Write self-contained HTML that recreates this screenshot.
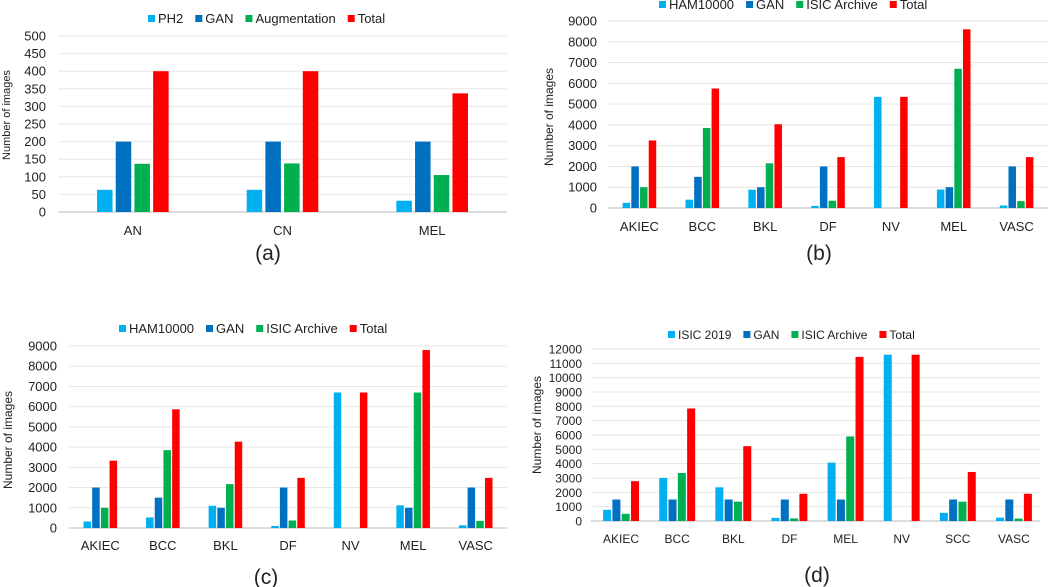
<!DOCTYPE html>
<html><head><meta charset="utf-8"><style>
html,body{margin:0;padding:0;background:#fff}
svg{display:block}
text{font-family:"Liberation Sans",sans-serif;fill:#222}
</style></head><body>
<svg id="fig" width="1049" height="587" viewBox="0 0 1049 587" xmlns="http://www.w3.org/2000/svg"></svg>
<script>
const colors=["#00b0f0","#0070c0","#00b050","#ff0000"];
// Panel (a)
const catsA=["AN","CN","MEL"];
const legendA=["PH2","GAN","Augmentation","Total"];
const ph2A=[63,63,32];
const ganA=[200,200,200];
const augA=[137,138,105];
const totalA=[400,400,337];
const ticksA=[0,50,100,150,200,250,300,350,400,450,500];
// Panel (b)
const catsB=["AKIEC","BCC","BKL","DF","NV","MEL","VASC"];
const legendB=["HAM10000","GAN","ISIC Archive","Total"];
const hamB=[250,400,880,100,5350,890,120];
const ganB=[2000,1500,1000,2000,0,1000,2000];
const isicB=[1000,3850,2150,350,0,6700,330];
const totalB=[3250,5750,4030,2450,5350,8600,2450];
const ticksB=[0,1000,2000,3000,4000,5000,6000,7000,8000,9000];
// Panel (c)
const catsC=["AKIEC","BCC","BKL","DF","NV","MEL","VASC"];
const legendC=["HAM10000","GAN","ISIC Archive","Total"];
const hamC=[320,520,1100,100,6700,1120,130];
const ganC=[2000,1500,1000,2000,0,1000,2000];
const isicC=[1000,3850,2170,370,0,6700,350];
const totalC=[3330,5870,4270,2480,6700,8800,2480];
const ticksC=[0,1000,2000,3000,4000,5000,6000,7000,8000,9000];
// Panel (d)
const catsD=["AKIEC","BCC","BKL","DF","MEL","NV","SCC","VASC"];
const legendD=["ISIC 2019","GAN","ISIC Archive","Total"];
const isic19D=[780,3000,2350,220,4070,11600,570,230];
const ganD=[1500,1500,1500,1500,1500,0,1500,1500];
const isicD=[500,3350,1350,180,5900,0,1350,170];
const totalD=[2780,7850,5220,1900,11450,11600,3420,1900];
const ticksD=[0,1000,2000,3000,4000,5000,6000,7000,8000,9000,10000,11000,12000];

const svg=document.getElementById('fig');
const NS="http://www.w3.org/2000/svg";
function mk(tag,attrs,parent){const e=document.createElementNS(NS,tag);for(const k in attrs)e.setAttribute(k,attrs[k]);(parent||svg).appendChild(e);return e;}

function panel(id,cfg){
  const g=mk('g',{});
  
  
  const max=cfg.ticks[cfg.ticks.length-1];
  const y=v=>cfg.y0-(v/max)*(cfg.y0-cfg.yTop);
  const n=cfg.cats.length;
  const step=(cfg.x1-cfg.x0)/n;
  const xc=i=>cfg.x0+step*(i+0.5)+cfg.shift;
  cfg.ticks.forEach(t=>{
    const l=mk('line',{x1:cfg.x0,x2:cfg.x1,y1:y(t),y2:y(t),stroke:t===0?'#d0d0d0':'#e6e6e6','stroke-width':t===0?1.5:1},g);
    
    
    const tx=mk('text',{x:cfg.tickX,y:y(t)+4.5,'text-anchor':'end','font-size':cfg.fs},g);
    
    
    tx.textContent=t;
  });
  cfg.series.forEach((s,si)=>{
    s.forEach((v,i)=>{
      if(v<=0)return;
      const bx=xc(i)+(si-1.5)*cfg.bstep-cfg.bw/2;
      const r=mk('rect',{x:bx,y:y(v),width:cfg.bw,height:y(0)-y(v),fill:colors[si]},g);
      
      
    });
  });
  cfg.cats.forEach((c,i)=>{
    const t=mk('text',{x:xc(i),y:cfg.catY,'text-anchor':'middle','font-size':cfg.fs},g);
    
    
    t.textContent=c;
  });
  let lx=cfg.legX;
  cfg.legend.forEach((name,si)=>{
    const r=mk('rect',{x:lx,y:cfg.legY-4,width:7,height:7,fill:colors[si]},g);
    
    
    const t=mk('text',{x:lx+10,y:cfg.legY+4,'font-size':cfg.fs},g);
    
    
    t.textContent=name;
    lx+=10+t.getComputedTextLength()+cfg.legGap;
  });
  const yt=mk('text',{x:0,y:0,'text-anchor':'middle','font-size':cfg.titleFs,transform:`translate(${cfg.titleX},${cfg.titleY}) rotate(-90)`},g);
  
  
  yt.textContent='Number of images';
  const cap=mk('text',{x:cfg.capX,y:cfg.capY,'text-anchor':'middle','font-size':21},g);
  
  
  cap.textContent='('+id+')';
}

panel('a',{cats:catsA,legend:legendA,series:[ph2A,ganA,augA,totalA],ticks:ticksA,x0:58,x1:507,yTop:36,y0:212,shift:0,bw:15.5,bstep:18.7,tickX:46,fs:13,catY:235,legX:148,legY:19,legGap:12,titleX:10,titleY:115,titleFs:11,capX:268,capY:260});
panel('b',{cats:catsB,legend:legendB,series:[hamB,ganB,isicB,totalB],ticks:ticksB,x0:608,x1:1048,yTop:21,y0:208,shift:0,bw:7.5,bstep:8.7,tickX:597,fs:13,catY:231,legX:659,legY:5,legGap:12,titleX:553,titleY:117,titleFs:12,capX:819,capY:260});
panel('c',{cats:catsC,legend:legendC,series:[hamC,ganC,isicC,totalC],ticks:ticksC,x0:69,x1:507,yTop:346,y0:528,shift:0,bw:7.5,bstep:8.7,tickX:57,fs:13,catY:550,legX:119,legY:329,legGap:12,titleX:12,titleY:440,titleFs:12,capX:266,capY:584});
panel('d',{cats:catsD,legend:legendD,series:[isic19D,ganD,isicD,totalD],ticks:ticksD,x0:591,x1:1040,yTop:349,y0:521,shift:2,bw:8,bstep:9.3,tickX:582,fs:12,catY:543,legX:668,legY:335,legGap:12,titleX:541,titleY:425,titleFs:12,capX:817,capY:582});
</script>
</body></html>
